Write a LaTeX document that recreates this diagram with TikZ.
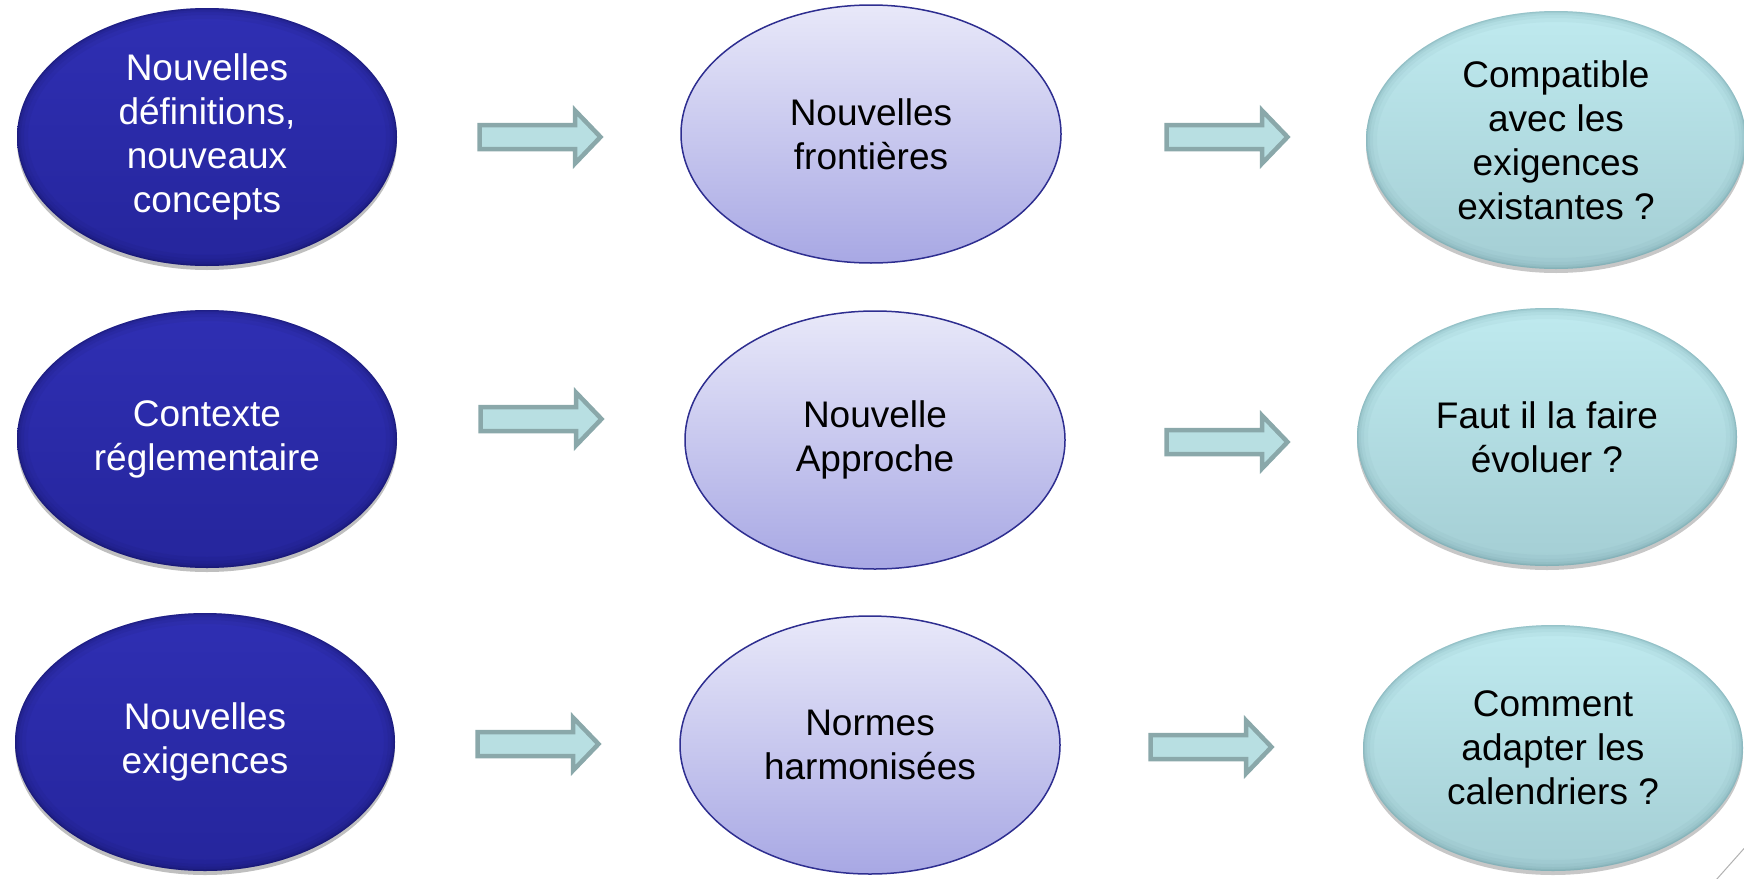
\documentclass[tikz,border=0pt]{standalone}
\usepackage{fontspec}
\setmainfont{Liberation Sans}
\usetikzlibrary{shapes.geometric,shadows,calc}
\definecolor{midtop}{HTML}{E8E8F9}
\definecolor{midbot}{HTML}{A8A8E4}
\definecolor{midline}{HTML}{2E2E90}
\definecolor{darktop}{HTML}{2F2FB3}
\definecolor{darkbot}{HTML}{25259C}
\definecolor{darkedge}{HTML}{080838}
\definecolor{cyantop}{HTML}{BFEAEF}
\definecolor{cyanbot}{HTML}{A4CED4}
\definecolor{cyanedge}{HTML}{4F8088}
\definecolor{arrowfill}{HTML}{B8DFE2}
\definecolor{arrowline}{HTML}{8AA8AA}
\definecolor{decoline}{HTML}{B0B0B0}
\tikzset{
  bevel/.style={path picture={
    \foreach \w/\o in {22/0.05,14/0.06,8/0.08,4/0.10,2/0.12}{
      \draw[#1, line width=\w pt, opacity=\o]
        let \p1=(path picture bounding box.south west),
            \p2=(path picture bounding box.north east) in
        ({(\x1+\x2)/2},{(\y1+\y2)/2}) ellipse [x radius={(\x2-\x1)/2}, y radius={(\y2-\y1)/2}];
    }}},
  bubble/.style={ellipse, minimum width=380pt, minimum height=258pt, inner sep=0pt,
    align=center, font=\fontsize{37}{44}\selectfont},
  darkbubble/.style={bubble, top color=darktop, bottom color=darkbot, bevel=darkedge, text=white,
    drop shadow={shadow xshift=0pt, shadow yshift=-4pt, opacity=0.25, fill=black}},
  midbubble/.style={bubble, top color=midtop, bottom color=midbot, draw=midline, line width=1.5pt},
  cyanbubble/.style={bubble, top color=cyantop, bottom color=cyanbot, bevel=cyanedge, text=black,
    drop shadow={shadow xshift=0pt, shadow yshift=-4pt, opacity=0.22, fill=black}},
  arrowstyle/.style={fill=arrowfill, draw=arrowline, line width=4.5pt, line join=miter},
  blockarrow/.pic={\draw[arrowstyle] (2.5,-12) -- (98,-12) -- (98,-26.5) -- (123.5,0) -- (98,26.5) -- (98,12) -- (2.5,12) -- cycle;}
}
\begin{document}
\begin{tikzpicture}[x=1pt,y=-1pt]
\useasboundingbox (0,0) rectangle (1744,878);
% left column
\node[darkbubble] (a1) at (207,137) {Nouvelles\\définitions,\\nouveaux\\concepts};
\node[darkbubble] (a2) at (207,439) {Contexte\\réglementaire};
\node[darkbubble] (a3) at (205,742) {Nouvelles\\exigences};
% middle column
\node[midbubble] (b1) at (871,134) {Nouvelles\\frontières};
\node[midbubble] (b2) at (875,440) {Nouvelle\\Approche};
\node[midbubble] (b3) at (870,745) {Normes\\harmonisées};
% right column
\node[cyanbubble] (c1) at (1556,140) {Compatible\\avec les\\exigences\\existantes ?};
\node[cyanbubble] (c2) at (1547,437) {Faut il la faire\\évoluer ?};
\node[cyanbubble, minimum height=246pt] (c3) at (1553,748) {Comment\\adapter les\\calendriers ?};
% block arrows
\pic at (477,137) {blockarrow};
\pic at (1164,137) {blockarrow};
\pic at (478,419) {blockarrow};
\pic at (1164,442) {blockarrow};
\pic at (475,744) {blockarrow};
\pic at (1148,747) {blockarrow};
% decoration
\draw[decoline, line width=1pt] (1716,880) -- (1748,844);
\end{tikzpicture}
\end{document}
